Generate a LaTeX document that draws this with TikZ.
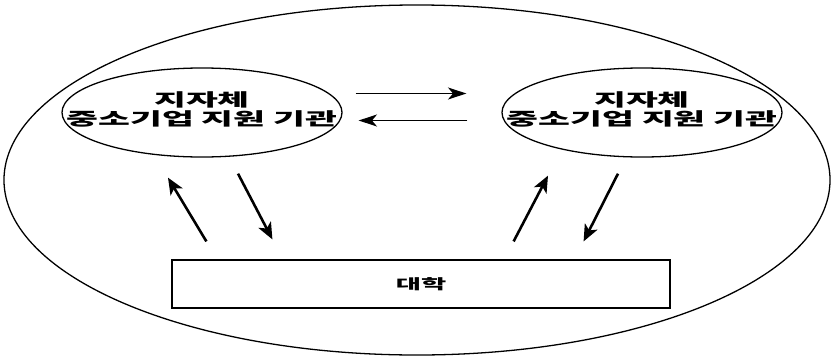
\documentclass[tikz,border=0pt]{standalone}
\usepackage{fontspec,graphicx}
\usetikzlibrary{arrows.meta,shapes.geometric}
\newfontfamily\korfont{Noto Sans CJK KR}
\newcommand{\orglabel}{\scalebox{1.97}[1]{\begin{tabular}{@{}c@{}}지자체\\[-0.5pt]중소기업 지원 기관\end{tabular}}}
\tikzset{
  orgellipse/.style={draw, ellipse, line width=1.1pt, minimum width=8.4cm, minimum height=2.67cm, inner sep=0pt},
  orgtext/.style={inner sep=0pt, font=\korfont\bfseries\fontsize{15}{15}\selectfont},
  flowarrow/.style={-{Stealth[length=5.5mm,width=3.6mm,inset=1.5mm]}, line width=1pt},
  linkarrow/.style={-{Stealth[length=5mm,width=4.2mm,inset=1.3mm]}, line width=2.2pt},
}

\begin{document}
\begin{tikzpicture}[x=0.03cm, y=-0.03cm]
\useasboundingbox (0,0) rectangle (832,357);
% outer region
\node[draw, ellipse, line width=1.1pt, minimum width=24.78cm, minimum height=10.5cm] (region) at (417,180) {};
% the two support agencies
\node[orgellipse] (lorg) at (202,112.5) {};
\node[orgellipse] (rorg) at (642,112.5) {};
\node[orgtext] (ltext) at (202,111) {\orglabel};
\node[orgtext] (rtext) at (642,111) {\orglabel};
% university
\node[draw, line width=1pt, minimum width=14.94cm, minimum height=1.44cm,
  font=\korfont\bfseries\fontsize{12}{14}\selectfont] (univ) at (421,284) {\scalebox{1.95}[1]{대학}};
% agency <-> agency
\draw[flowarrow] ([shift={(13,-19)}]lorg.east) -- ([shift={(-35,-19)}]rorg.west);
\draw[flowarrow] ([shift={(-34,8)}]rorg.west) -- ([shift={(16,8)}]lorg.east);
% agency <-> university
\draw[linkarrow] ([shift={(35,-18)}]univ.north west) -- ([shift={(-34,20)}]lorg.south);
\draw[linkarrow] ([shift={(36,16)}]lorg.south) -- ([shift={(101,-20)}]univ.north west);
\draw[linkarrow] ([shift={(-157,-18)}]univ.north east) -- ([shift={(-94,18)}]rorg.south);
\draw[linkarrow] ([shift={(-24,16)}]rorg.south) -- ([shift={(-87,-18)}]univ.north east);
\end{tikzpicture}
\end{document}
